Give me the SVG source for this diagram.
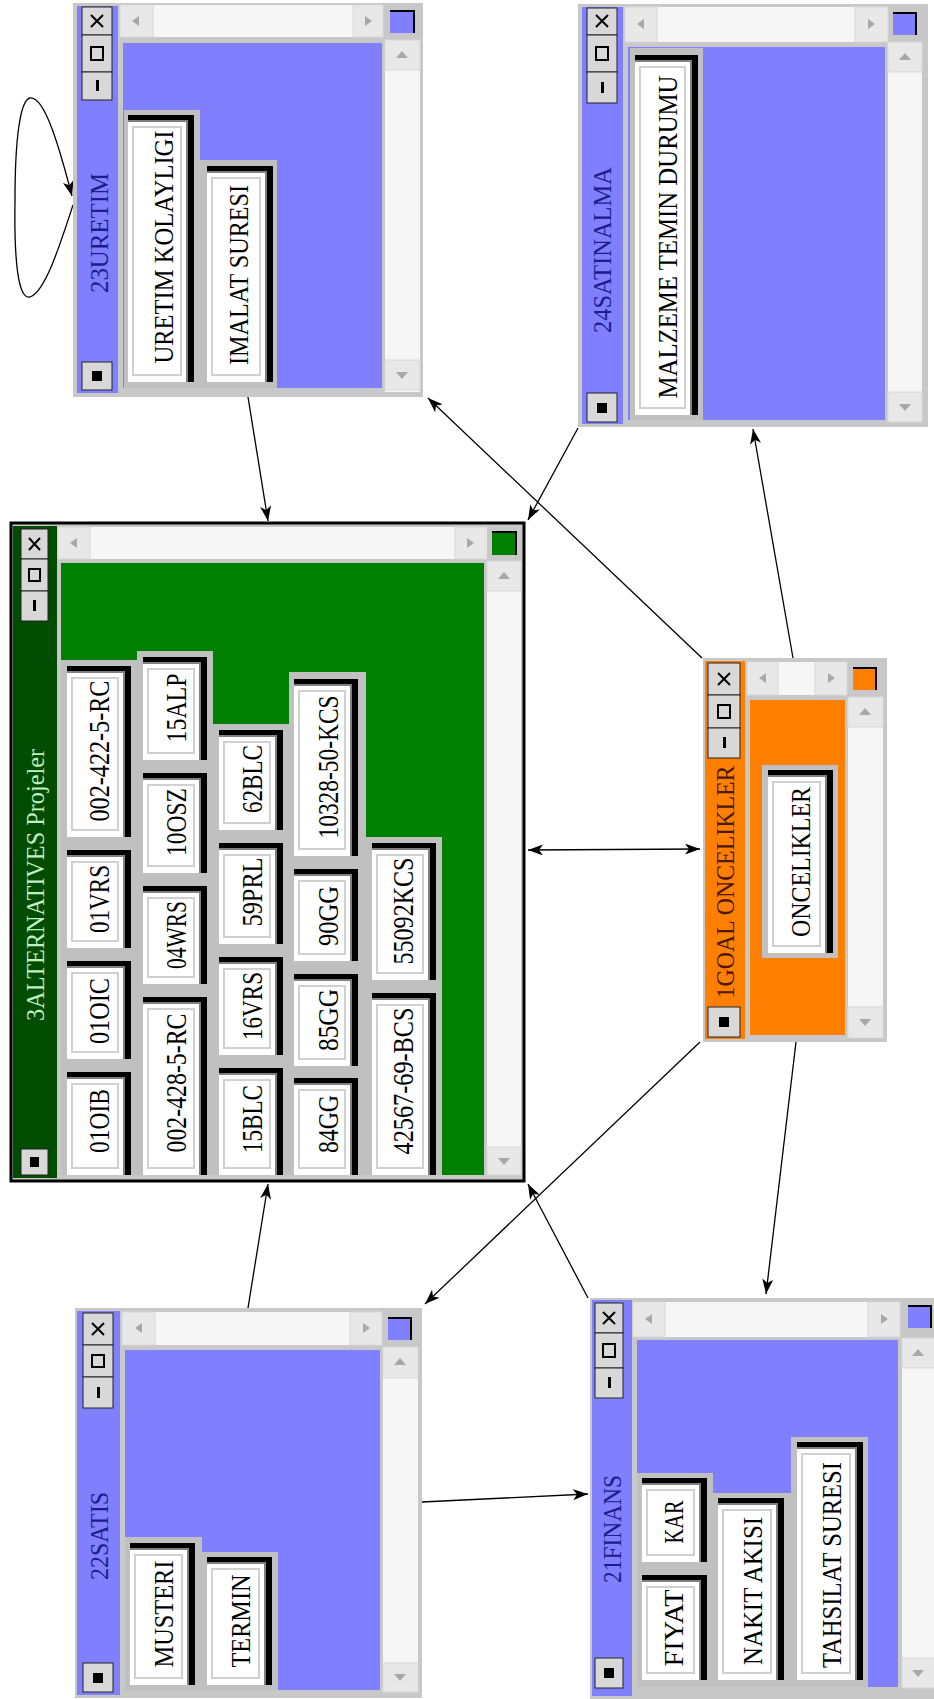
<svg xmlns="http://www.w3.org/2000/svg" width="934" height="1699" viewBox="0 0 934 1699">
<defs>
<style>
.frame{fill:#c8c8c8}
.blue{fill:#8080ff}
.grn{fill:#008000}
.dgrn{fill:#004c00}
.org{fill:#ff8000}
.strip{fill:#f6f6f6}
.sbtn{fill:#e8e8e8;stroke:#d8d8d8;stroke-width:1}
.tri{fill:#a8a8a8}
.panel{fill:#c0c0c0}
.bk{fill:#000}
.sh{fill:#808080}
.fc{fill:#fff}
.in{fill:none;stroke:#d0d0d0;stroke-width:2}
.tbtn{fill:#d8d8d8;stroke:#222;stroke-width:1}
.gl{stroke:#000;stroke-width:2;fill:none}
.glb{fill:#000}
.cedge{fill:none;stroke:#000;stroke-width:2}
.lbl{font-family:"Liberation Serif","Times New Roman",serif;font-size:27px;text-anchor:middle;fill:#000}
.lbla{font-family:"Liberation Serif","Times New Roman",serif;font-size:30px;text-anchor:middle;fill:#000}
.ttl{font-family:"Liberation Serif","Times New Roman",serif;font-size:26px;text-anchor:middle}
.tb{fill:#1c1c8c}
.tg{fill:#c0f0c0}
.to{fill:#4a1800}
.conn{stroke:#000;stroke-width:1.3;fill:none}
</style>
<marker id="ah" markerUnits="userSpaceOnUse" markerWidth="15" markerHeight="11" refX="15" refY="5.5" orient="auto-start-reverse">
<path d="M0,0 L15,5.5 L0,11 L4,5.5 z" fill="#000"/>
</marker>
</defs>

<g id="connectors">
<path class="conn" d="M248,397 L268,521" marker-end="url(#ah)"/>
<path class="conn" d="M702,658 L428,398" marker-end="url(#ah)"/>
<path class="conn" d="M578,428 L528,520" marker-end="url(#ah)"/>
<path class="conn" d="M793,658 L753,429" marker-end="url(#ah)"/>
<path class="conn" d="M528,850 L700,849" marker-start="url(#ah)" marker-end="url(#ah)"/>
<path class="conn" d="M700,1042 L425,1304" marker-end="url(#ah)"/>
<path class="conn" d="M588,1298 L528,1184" marker-end="url(#ah)"/>
<path class="conn" d="M248,1308 L268,1184" marker-end="url(#ah)"/>
<path class="conn" d="M796,1042 L766,1294" marker-end="url(#ah)"/>
<path class="conn" d="M422,1502 L588,1494" marker-end="url(#ah)"/>
<path class="conn" d="M73,205 C60,245 45,292 30,297 C18,300 14,260 15,200 C15,140 20,100 30,98 C45,96 60,150 72,196" marker-end="url(#ah)"/>
</g>

<!-- 23URETIM -->
<g id="n23uretim">
<rect class="frame" x="73" y="3" width="350" height="394"/>
<rect class="blue" x="77" y="6" width="41" height="387"/>
<rect class="strip" x="120" y="5" width="263" height="32"/>
<rect class="sbtn" x="120" y="5" width="33" height="32"/><polygon class="tri" points="132,21 139,16 139,26"/>
<rect class="sbtn" x="353" y="5" width="30" height="32"/><polygon class="tri" points="372,21 365,16 365,26"/>
<rect class="blue" x="390" y="10" width="25" height="23"/><polyline class="cedge" points="390,11 414,11 414,33"/>
<rect class="strip" x="385" y="40" width="35" height="352"/>
<rect class="sbtn" x="385" y="40" width="35" height="30"/><polygon class="tri" points="402,51 396,58 408,58"/>
<rect class="sbtn" x="385" y="360" width="35" height="30"/><polygon class="tri" points="402,379 396,372 408,372"/>
<rect class="blue" x="123" y="43" width="259" height="345"/>
<rect class="tbtn" x="82" y="7" width="30" height="28"/><path class="gl" d="M91,15 L103,27 M103,15 L91,27"/>
<rect class="tbtn" x="82" y="35" width="30" height="37"/><rect class="gl" x="91" y="47" width="12" height="13"/>
<rect class="tbtn" x="82" y="72" width="30" height="28"/><rect class="glb" x="96" y="80" width="3" height="11"/>
<rect class="tbtn" x="82" y="362" width="30" height="28"/><rect class="glb" x="92" y="371" width="10" height="10"/>
<text class="ttl tb" transform="translate(108,233) rotate(-90)" textLength="120" lengthAdjust="spacingAndGlyphs">23URETIM</text>
<rect class="panel" x="124" y="110" width="76" height="278"/>
<rect class="panel" x="200" y="160" width="77" height="228"/>
<rect class="bk" x="128" y="115" width="66" height="267"/><rect class="sh" x="128" y="120" width="60" height="262"/><rect class="fc" x="128" y="122" width="58" height="260"/><rect class="in" x="133" y="127" width="48" height="248"/>
<text class="lbl" transform="translate(173,247) rotate(-90)" textLength="233" lengthAdjust="spacingAndGlyphs">URETIM KOLAYLIGI</text>
<rect class="bk" x="207" y="166" width="66" height="216"/><rect class="sh" x="207" y="171" width="60" height="211"/><rect class="fc" x="207" y="173" width="58" height="209"/><rect class="in" x="212" y="178" width="48" height="197"/>
<text class="lbl" transform="translate(248,275) rotate(-90)" textLength="180" lengthAdjust="spacingAndGlyphs">IMALAT SURESI</text>
</g>

<!-- 24SATINALMA -->
<g id="n24satinalma">
<rect class="frame" x="578" y="4" width="350" height="423"/>
<rect class="blue" x="582" y="7" width="41" height="417"/>
<rect class="strip" x="625" y="7" width="263" height="35"/>
<rect class="sbtn" x="625" y="7" width="32" height="35"/><polygon class="tri" points="637,24 644,19 644,29"/>
<rect class="sbtn" x="855" y="7" width="33" height="35"/><polygon class="tri" points="875,24 868,19 868,29"/>
<rect class="blue" x="893" y="12" width="24" height="23"/><polyline class="cedge" points="893,13 916,13 916,35"/>
<rect class="strip" x="888" y="42" width="34" height="380"/>
<rect class="sbtn" x="888" y="42" width="34" height="30"/><polygon class="tri" points="905,53 899,60 911,60"/>
<rect class="sbtn" x="888" y="392" width="34" height="30"/><polygon class="tri" points="905,411 899,404 911,404"/>
<rect class="blue" x="628" y="47" width="257" height="373"/>
<rect class="tbtn" x="587" y="8" width="30" height="27"/><path class="gl" d="M596,15 L608,27 M608,15 L596,27"/>
<rect class="tbtn" x="587" y="35" width="30" height="37"/><rect class="gl" x="596" y="47" width="12" height="13"/>
<rect class="tbtn" x="587" y="72" width="30" height="31"/><rect class="glb" x="601" y="82" width="3" height="11"/>
<rect class="tbtn" x="587" y="393" width="30" height="29"/><rect class="glb" x="597" y="403" width="10" height="10"/>
<text class="ttl tb" transform="translate(611,250) rotate(-90)" textLength="166" lengthAdjust="spacingAndGlyphs">24SATINALMA</text>
<rect class="panel" x="630" y="48" width="73" height="372"/>
<rect class="bk" x="635" y="55" width="63" height="360"/><rect class="sh" x="635" y="60" width="57" height="355"/><rect class="fc" x="635" y="62" width="55" height="353"/><rect class="in" x="640" y="67" width="45" height="341"/>
<text class="lbl" transform="translate(677,237) rotate(-90)" textLength="323" lengthAdjust="spacingAndGlyphs">MALZEME TEMIN DURUMU</text>
</g>

<!-- 3ALTERNATIVES -->
<g id="n3alternatives">
<rect class="frame" x="11" y="523" width="513" height="658" stroke="#000" stroke-width="3"/>
<rect class="dgrn" x="13" y="526" width="44" height="652"/>
<rect class="strip" x="58" y="527" width="429" height="32"/>
<rect class="sbtn" x="58" y="527" width="32" height="32"/><polygon class="tri" points="70,543 77,538 77,548"/>
<rect class="sbtn" x="455" y="527" width="31" height="32"/><polygon class="tri" points="474,543 467,538 467,548"/>
<rect class="grn" x="492" y="531" width="25" height="24"/><polyline class="cedge" points="492,532 516,532 516,555"/>
<rect class="strip" x="487" y="561" width="34" height="614"/>
<rect class="sbtn" x="487" y="561" width="34" height="30"/><polygon class="tri" points="504,572 498,579 510,579"/>
<rect class="sbtn" x="487" y="1147" width="34" height="28"/><polygon class="tri" points="504,1165 498,1158 510,1158"/>
<rect class="grn" x="61" y="563" width="423" height="612"/>
<rect class="tbtn" x="21" y="529" width="27" height="30"/><path class="gl" d="M29,538 L40,550 M40,538 L29,550"/>
<rect class="tbtn" x="21" y="559" width="27" height="32"/><rect class="gl" x="29" y="569" width="11" height="12"/>
<rect class="tbtn" x="21" y="591" width="27" height="30"/><rect class="glb" x="33" y="600" width="3" height="11"/>
<rect class="tbtn" x="21" y="1149" width="27" height="26"/><rect class="glb" x="30" y="1157" width="9" height="10"/>
<text class="ttl tg" transform="translate(44,885) rotate(-90)" textLength="272" lengthAdjust="spacingAndGlyphs">3ALTERNATIVES Projeler</text>
<rect class="panel" x="61" y="660" width="76" height="515"/>
<rect class="panel" x="137" y="651" width="76" height="524"/>
<rect class="panel" x="213" y="724" width="76" height="451"/>
<rect class="panel" x="289" y="672" width="77" height="503"/>
<rect class="panel" x="366" y="837" width="76" height="338"/>
<!-- col1 -->
<rect class="bk" x="67" y="666" width="64" height="171"/><rect class="sh" x="67" y="671" width="58" height="166"/><rect class="fc" x="67" y="673" width="56" height="164"/><rect class="in" x="72" y="678" width="46" height="152"/>
<text class="lbla" transform="translate(109,751) rotate(-90)" textLength="141" lengthAdjust="spacingAndGlyphs">002-422-5-RC</text>
<rect class="bk" x="67" y="850" width="64" height="98"/><rect class="sh" x="67" y="855" width="58" height="93"/><rect class="fc" x="67" y="857" width="56" height="91"/><rect class="in" x="72" y="862" width="46" height="79"/>
<text class="lbla" transform="translate(109,899) rotate(-90)" textLength="68" lengthAdjust="spacingAndGlyphs">01VRS</text>
<rect class="bk" x="67" y="961" width="64" height="98"/><rect class="sh" x="67" y="966" width="58" height="93"/><rect class="fc" x="67" y="968" width="56" height="91"/><rect class="in" x="72" y="973" width="46" height="79"/>
<text class="lbla" transform="translate(109,1011) rotate(-90)" textLength="66" lengthAdjust="spacingAndGlyphs">01OIC</text>
<rect class="bk" x="67" y="1072" width="64" height="103"/><rect class="sh" x="67" y="1077" width="58" height="98"/><rect class="fc" x="67" y="1079" width="56" height="96"/><rect class="in" x="72" y="1084" width="46" height="84"/>
<text class="lbla" transform="translate(109,1121) rotate(-90)" textLength="64" lengthAdjust="spacingAndGlyphs">01OIB</text>
<!-- col2 -->
<rect class="bk" x="143" y="657" width="64" height="103"/><rect class="sh" x="143" y="662" width="58" height="98"/><rect class="fc" x="143" y="664" width="56" height="96"/><rect class="in" x="148" y="669" width="46" height="84"/>
<text class="lbla" transform="translate(186,708) rotate(-90)" textLength="69" lengthAdjust="spacingAndGlyphs">15ALP</text>
<rect class="bk" x="143" y="773" width="64" height="100"/><rect class="sh" x="143" y="778" width="58" height="95"/><rect class="fc" x="143" y="780" width="56" height="93"/><rect class="in" x="148" y="785" width="46" height="81"/>
<text class="lbla" transform="translate(186,822) rotate(-90)" textLength="68" lengthAdjust="spacingAndGlyphs">10OSZ</text>
<rect class="bk" x="143" y="886" width="64" height="98"/><rect class="sh" x="143" y="891" width="58" height="93"/><rect class="fc" x="143" y="893" width="56" height="91"/><rect class="in" x="148" y="898" width="46" height="79"/>
<text class="lbla" transform="translate(186,935) rotate(-90)" textLength="68" lengthAdjust="spacingAndGlyphs">04WRS</text>
<rect class="bk" x="143" y="997" width="64" height="178"/><rect class="sh" x="143" y="1002" width="58" height="173"/><rect class="fc" x="143" y="1004" width="56" height="171"/><rect class="in" x="148" y="1009" width="46" height="159"/>
<text class="lbla" transform="translate(186,1083) rotate(-90)" textLength="139" lengthAdjust="spacingAndGlyphs">002-428-5-RC</text>
<!-- col3 -->
<rect class="bk" x="219" y="730" width="64" height="100"/><rect class="sh" x="219" y="735" width="58" height="95"/><rect class="fc" x="219" y="737" width="56" height="93"/><rect class="in" x="224" y="742" width="46" height="81"/>
<text class="lbla" transform="translate(262,779) rotate(-90)" textLength="68" lengthAdjust="spacingAndGlyphs">62BLC</text>
<rect class="bk" x="219" y="843" width="64" height="101"/><rect class="sh" x="219" y="848" width="58" height="96"/><rect class="fc" x="219" y="850" width="56" height="94"/><rect class="in" x="224" y="855" width="46" height="82"/>
<text class="lbla" transform="translate(262,892) rotate(-90)" textLength="69" lengthAdjust="spacingAndGlyphs">59PRL</text>
<rect class="bk" x="219" y="957" width="64" height="98"/><rect class="sh" x="219" y="962" width="58" height="93"/><rect class="fc" x="219" y="964" width="56" height="91"/><rect class="in" x="224" y="969" width="46" height="79"/>
<text class="lbla" transform="translate(262,1006) rotate(-90)" textLength="68" lengthAdjust="spacingAndGlyphs">16VRS</text>
<rect class="bk" x="219" y="1068" width="64" height="107"/><rect class="sh" x="219" y="1073" width="58" height="102"/><rect class="fc" x="219" y="1075" width="56" height="100"/><rect class="in" x="224" y="1080" width="46" height="88"/>
<text class="lbla" transform="translate(262,1119) rotate(-90)" textLength="68" lengthAdjust="spacingAndGlyphs">15BLC</text>
<!-- col4 -->
<rect class="bk" x="294" y="679" width="64" height="177"/><rect class="sh" x="294" y="684" width="58" height="172"/><rect class="fc" x="294" y="686" width="56" height="170"/><rect class="in" x="299" y="691" width="46" height="158"/>
<text class="lbla" transform="translate(338,767) rotate(-90)" textLength="143" lengthAdjust="spacingAndGlyphs">10328-50-KCS</text>
<rect class="bk" x="294" y="869" width="64" height="92"/><rect class="sh" x="294" y="874" width="58" height="87"/><rect class="fc" x="294" y="876" width="56" height="85"/><rect class="in" x="299" y="881" width="46" height="73"/>
<text class="lbla" transform="translate(338,916) rotate(-90)" textLength="60" lengthAdjust="spacingAndGlyphs">90GG</text>
<rect class="bk" x="294" y="974" width="64" height="92"/><rect class="sh" x="294" y="979" width="58" height="87"/><rect class="fc" x="294" y="981" width="56" height="85"/><rect class="in" x="299" y="986" width="46" height="73"/>
<text class="lbla" transform="translate(338,1020) rotate(-90)" textLength="62" lengthAdjust="spacingAndGlyphs">85GG</text>
<rect class="bk" x="294" y="1078" width="64" height="97"/><rect class="sh" x="294" y="1083" width="58" height="92"/><rect class="fc" x="294" y="1085" width="56" height="90"/><rect class="in" x="299" y="1090" width="46" height="78"/>
<text class="lbla" transform="translate(338,1124) rotate(-90)" textLength="58" lengthAdjust="spacingAndGlyphs">84GG</text>
<!-- col5 -->
<rect class="bk" x="372" y="843" width="64" height="137"/><rect class="sh" x="372" y="848" width="58" height="132"/><rect class="fc" x="372" y="850" width="56" height="130"/><rect class="in" x="377" y="855" width="46" height="118"/>
<text class="lbla" transform="translate(413,911) rotate(-90)" textLength="107" lengthAdjust="spacingAndGlyphs">55092KCS</text>
<rect class="bk" x="372" y="993" width="64" height="182"/><rect class="sh" x="372" y="998" width="58" height="177"/><rect class="fc" x="372" y="1000" width="56" height="175"/><rect class="in" x="377" y="1005" width="46" height="163"/>
<text class="lbla" transform="translate(413,1081) rotate(-90)" textLength="147" lengthAdjust="spacingAndGlyphs">42567-69-BCS</text>
</g>

<!-- 1GOAL ONCELIKLER -->
<g id="n1goal">
<rect class="frame" x="703" y="658" width="184" height="384"/>
<rect class="org" x="705" y="661" width="40" height="378"/>
<rect class="strip" x="747" y="662" width="100" height="33"/>
<rect class="sbtn" x="747" y="662" width="31" height="33"/><polygon class="tri" points="759,678 766,673 766,683"/>
<rect class="sbtn" x="815" y="662" width="32" height="33"/><polygon class="tri" points="835,678 828,673 828,683"/>
<rect class="org" x="853" y="667" width="24" height="23"/><polyline class="cedge" points="853,668 876,668 876,690"/>
<rect class="strip" x="848" y="697" width="35" height="341"/>
<rect class="sbtn" x="848" y="697" width="35" height="30"/><polygon class="tri" points="865,708 859,715 871,715"/>
<rect class="sbtn" x="848" y="1007" width="35" height="30"/><polygon class="tri" points="865,1026 859,1019 871,1019"/>
<rect class="org" x="750" y="700" width="95" height="335"/>
<rect class="tbtn" x="708" y="663" width="32" height="32"/><path class="gl" d="M718,673 L730,685 M730,673 L718,685"/>
<rect class="tbtn" x="708" y="695" width="32" height="33"/><rect class="gl" x="718" y="705" width="12" height="13"/>
<rect class="tbtn" x="708" y="728" width="32" height="30"/><rect class="glb" x="723" y="737" width="3" height="11"/>
<rect class="tbtn" x="708" y="1007" width="32" height="30"/><rect class="glb" x="719" y="1017" width="10" height="10"/>
<text class="ttl to" transform="translate(734,882) rotate(-90)" textLength="233" lengthAdjust="spacingAndGlyphs">1GOAL ONCELIKLER</text>
<rect class="panel" x="762" y="765" width="76" height="193"/>
<rect class="bk" x="768" y="770" width="65" height="183"/><rect class="sh" x="768" y="775" width="59" height="178"/><rect class="fc" x="768" y="777" width="57" height="176"/><rect class="in" x="773" y="782" width="47" height="164"/>
<text class="lbl" transform="translate(810,862) rotate(-90)" textLength="150" lengthAdjust="spacingAndGlyphs">ONCELIKLER</text>
</g>

<!-- 22SATIS -->
<g id="n22satis">
<rect class="frame" x="75" y="1308" width="347" height="390"/>
<rect class="blue" x="77" y="1311" width="43" height="384"/>
<rect class="strip" x="122" y="1312" width="260" height="33"/>
<rect class="sbtn" x="122" y="1312" width="33" height="33"/><polygon class="tri" points="135,1328 142,1323 142,1333"/>
<rect class="sbtn" x="350" y="1312" width="32" height="33"/><polygon class="tri" points="370,1328 363,1323 363,1333"/>
<rect class="blue" x="388" y="1317" width="24" height="23"/><polyline class="cedge" points="388,1318 411,1318 411,1340"/>
<rect class="strip" x="383" y="1347" width="35" height="345"/>
<rect class="sbtn" x="383" y="1347" width="35" height="31"/><polygon class="tri" points="400,1358 394,1365 406,1365"/>
<rect class="sbtn" x="383" y="1663" width="35" height="29"/><polygon class="tri" points="400,1681 394,1674 406,1674"/>
<rect class="blue" x="125" y="1350" width="255" height="340"/>
<rect class="tbtn" x="83" y="1313" width="30" height="32"/><path class="gl" d="M92,1323 L104,1335 M104,1323 L92,1335"/>
<rect class="tbtn" x="83" y="1345" width="30" height="32"/><rect class="gl" x="92" y="1355" width="12" height="12"/>
<rect class="tbtn" x="83" y="1377" width="30" height="31"/><rect class="glb" x="97" y="1387" width="3" height="11"/>
<rect class="tbtn" x="83" y="1663" width="30" height="29"/><rect class="glb" x="93" y="1673" width="10" height="10"/>
<text class="ttl tb" transform="translate(108,1536) rotate(-90)" textLength="88" lengthAdjust="spacingAndGlyphs">22SATIS</text>
<rect class="panel" x="125" y="1537" width="77" height="153"/>
<rect class="panel" x="202" y="1552" width="76" height="138"/>
<rect class="bk" x="130" y="1543" width="65" height="142"/><rect class="sh" x="130" y="1548" width="59" height="137"/><rect class="fc" x="130" y="1550" width="57" height="135"/><rect class="in" x="135" y="1555" width="47" height="123"/>
<text class="lbl" transform="translate(173,1614) rotate(-90)" textLength="107" lengthAdjust="spacingAndGlyphs">MUSTERI</text>
<rect class="bk" x="207" y="1557" width="65" height="128"/><rect class="sh" x="207" y="1562" width="59" height="123"/><rect class="fc" x="207" y="1564" width="57" height="121"/><rect class="in" x="212" y="1569" width="47" height="109"/>
<text class="lbl" transform="translate(250,1621) rotate(-90)" textLength="93" lengthAdjust="spacingAndGlyphs">TERMIN</text>
</g>

<!-- 21FINANS -->
<g id="n21finans">
<rect class="frame" x="590" y="1298" width="346" height="403"/>
<rect class="blue" x="592" y="1300" width="40" height="396"/>
<rect class="strip" x="633" y="1302" width="267" height="35"/>
<rect class="sbtn" x="633" y="1302" width="32" height="35"/><polygon class="tri" points="645,1319 652,1314 652,1324"/>
<rect class="sbtn" x="868" y="1302" width="32" height="35"/><polygon class="tri" points="888,1319 881,1314 881,1324"/>
<rect class="blue" x="908" y="1305" width="24" height="23"/><polyline class="cedge" points="908,1306 931,1306 931,1328"/>
<rect class="strip" x="902" y="1338" width="34" height="350"/>
<rect class="sbtn" x="902" y="1338" width="34" height="30"/><polygon class="tri" points="918,1349 912,1356 924,1356"/>
<rect class="sbtn" x="902" y="1658" width="34" height="30"/><polygon class="tri" points="918,1677 912,1670 924,1670"/>
<rect class="blue" x="637" y="1340" width="261" height="347"/>
<rect class="tbtn" x="595" y="1303" width="28" height="30"/><path class="gl" d="M603,1312 L615,1324 M615,1312 L603,1324"/>
<rect class="tbtn" x="595" y="1333" width="28" height="35"/><rect class="gl" x="603" y="1344" width="12" height="13"/>
<rect class="tbtn" x="595" y="1368" width="28" height="30"/><rect class="glb" x="608" y="1377" width="3" height="11"/>
<rect class="tbtn" x="595" y="1658" width="28" height="30"/><rect class="glb" x="604" y="1668" width="10" height="10"/>
<text class="ttl tb" transform="translate(621,1529) rotate(-90)" textLength="108" lengthAdjust="spacingAndGlyphs">21FINANS</text>
<rect class="panel" x="637" y="1473" width="76" height="214"/>
<rect class="panel" x="713" y="1493" width="78" height="194"/>
<rect class="panel" x="791" y="1437" width="77" height="250"/>
<rect class="bk" x="642" y="1478" width="65" height="84"/><rect class="sh" x="642" y="1483" width="59" height="79"/><rect class="fc" x="642" y="1485" width="57" height="77"/><rect class="in" x="647" y="1490" width="47" height="65"/>
<text class="lbl" transform="translate(683,1522) rotate(-90)" textLength="43" lengthAdjust="spacingAndGlyphs">KAR</text>
<rect class="bk" x="642" y="1575" width="65" height="105"/><rect class="sh" x="642" y="1580" width="59" height="100"/><rect class="fc" x="642" y="1582" width="57" height="98"/><rect class="in" x="647" y="1587" width="47" height="86"/>
<text class="lbl" transform="translate(683,1628) rotate(-90)" textLength="77" lengthAdjust="spacingAndGlyphs">FIYAT</text>
<rect class="bk" x="718" y="1498" width="66" height="182"/><rect class="sh" x="718" y="1503" width="60" height="177"/><rect class="fc" x="718" y="1505" width="58" height="175"/><rect class="in" x="723" y="1510" width="48" height="163"/>
<text class="lbl" transform="translate(762,1591) rotate(-90)" textLength="148" lengthAdjust="spacingAndGlyphs">NAKIT AKISI</text>
<rect class="bk" x="797" y="1442" width="66" height="238"/><rect class="sh" x="797" y="1447" width="60" height="233"/><rect class="fc" x="797" y="1449" width="58" height="231"/><rect class="in" x="802" y="1454" width="48" height="219"/>
<text class="lbl" transform="translate(841,1565) rotate(-90)" textLength="206" lengthAdjust="spacingAndGlyphs">TAHSILAT SURESI</text>
</g>
</svg>
